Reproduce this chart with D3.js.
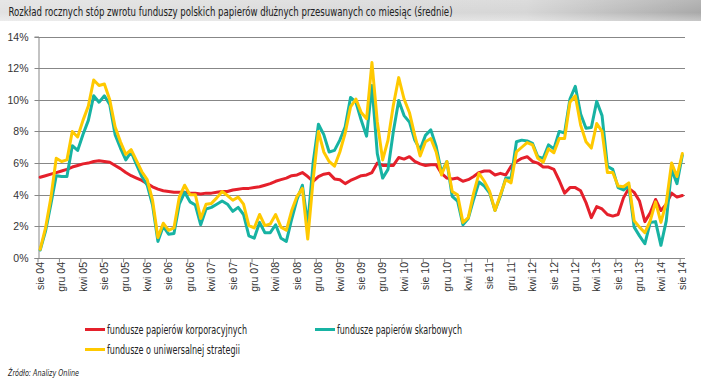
<!DOCTYPE html>
<html><head><meta charset="utf-8">
<script src="https://cdn.jsdelivr.net/npm/d3@7"></script>
<style>
html,body{margin:0;padding:0;background:#fff;}
svg{display:block;}
</style></head>
<body>
<svg id="chart" width="701" height="384"></svg>
<script>
const title = "Rozkład rocznych stóp zwrotu funduszy polskich papierów dłużnych przesuwanych co miesiąc (średnie)";
const source = "Źródło: Analizy Online";
const monthAbbr = ["sty","lut","mar","kwi","maj","cze","lip","sie","wrz","paź","lis","gru"];
const categories = d3.range(121).map(i => {
  const k = 7 + i;
  return monthAbbr[k % 12] + " " + String(4 + Math.floor(k / 12)).padStart(2, "0");
});
const yTicks = [0, 2, 4, 6, 8, 10, 12, 14];
const seriesNames = ["fundusze papierów korporacyjnych", "fundusze papierów skarbowych", "fundusze o uniwersalnej strategii"];
const korporacyjne = [
  5.1, 5.2, 5.3, 5.4, 5.5, 5.6, 5.75, 5.85, 5.95, 6.0,
  6.1, 6.15, 6.1, 6.05, 5.85, 5.65, 5.4, 5.2, 5.05, 4.9,
  4.7, 4.5, 4.35, 4.25, 4.2, 4.15, 4.15, 4.15, 4.1, 4.1,
  4.05, 4.1, 4.1, 4.15, 4.2, 4.2, 4.3, 4.35, 4.4, 4.4,
  4.45, 4.5, 4.6, 4.7, 4.85, 4.95, 5.05, 5.2, 5.25, 5.4,
  5.15, 4.85, 5.15, 5.3, 5.35, 5.0, 4.95, 4.7, 4.9, 5.05,
  5.2, 5.25, 5.4, 6.0, 5.85, 5.85, 5.85, 6.35, 6.25, 6.4,
  6.1, 5.95, 5.85, 5.9, 5.9, 5.35, 5.05, 5.0, 5.05, 4.85,
  4.95, 5.15, 5.4, 5.5, 5.5, 5.25, 5.35, 5.25, 5.8, 6.1,
  6.3, 6.4, 6.1, 6.0, 5.75, 5.75, 5.6, 4.9, 4.1, 4.45,
  4.45, 4.25, 3.5, 2.55, 3.25, 3.1, 2.75, 2.65, 2.75, 3.8,
  4.4, 4.15, 3.6, 2.3, 2.85, 3.7, 3.0, 3.4, 4.1, 3.85,
  3.95
];
const skarbowe = [
  0.5, 1.7, 3.4, 5.2, 5.15, 5.15, 7.1, 6.8, 7.8, 8.7,
  10.25, 9.85, 10.25, 9.7, 7.8, 6.95, 6.2, 6.7, 5.9, 5.15,
  4.6, 3.35, 1.05, 2.0, 1.5, 1.55, 3.4, 4.15, 3.55, 3.35,
  2.1, 3.1, 3.2, 3.4, 3.6, 3.4, 2.95, 3.2, 2.75, 1.4,
  1.25, 2.25, 1.6, 1.6, 2.1, 1.25, 1.05, 2.45, 3.7, 4.6,
  2.1, 6.0, 8.45, 7.8, 6.7, 6.8, 7.45, 8.3, 10.15, 9.85,
  8.7, 7.7, 10.9, 6.6, 5.05, 5.6, 8.0, 9.95, 9.0, 8.6,
  7.45, 6.85, 7.75, 8.1, 7.05, 5.4, 6.1, 3.9, 3.6, 2.1,
  2.5, 3.7, 4.8, 4.55, 4.1, 3.0, 3.9, 5.05, 5.05, 7.35,
  7.45, 7.4, 7.25, 6.4, 6.3, 7.15, 6.9, 8.0, 7.9, 10.05,
  10.85, 9.1, 8.2, 8.25, 9.9, 9.0, 5.8, 5.6, 4.45, 4.3,
  4.55, 1.95, 1.4, 0.9, 2.25, 2.3, 0.8, 2.35, 5.6, 4.7,
  6.5
];
const uniwersalne = [
  0.55, 1.9, 3.8, 6.3, 6.1, 6.2, 8.0, 7.65, 8.7, 9.6,
  11.25, 10.9, 11.0, 10.0, 8.3, 7.35, 6.55, 6.85, 6.15, 5.45,
  4.95, 3.65, 1.3, 2.2, 1.75, 1.9, 3.85, 4.6, 4.0, 4.0,
  2.5, 3.4, 3.45, 3.8, 4.2, 3.95, 3.65, 3.85, 3.4, 2.05,
  1.9, 2.75, 2.05, 2.15, 2.75, 1.95, 1.75, 3.0, 3.9, 4.4,
  1.2, 4.9, 8.0, 6.7, 6.1, 5.8, 6.7, 7.9, 9.55, 10.05,
  9.2, 8.8, 12.35, 8.6, 6.2, 7.45, 9.65, 11.4, 10.05, 9.2,
  7.75, 6.45, 7.35, 7.55, 6.7, 5.25, 6.1, 4.2, 4.0, 2.25,
  2.55, 4.1, 5.35, 4.85, 4.2, 3.0, 4.0, 4.95, 4.75, 6.7,
  7.0, 7.3, 7.15, 6.3, 6.05, 6.9, 6.65, 7.55, 7.55, 9.85,
  10.25, 8.4, 7.35, 6.95, 8.5, 8.0, 5.4, 5.4, 4.55, 4.5,
  4.75, 2.35, 1.95, 1.6, 2.35, 3.55, 2.25, 3.5, 6.0, 5.15,
  6.6
];
const colors = ["#e5202b", "#17b3a3", "#ffc900"];

const svg = d3.select("#chart");
const W = 701, H = 384;
const plotLeft = 37.5, plotRight = 685, plotTop = 36.5, plotBottom = 258;

// title bar
const defs = svg.append("defs");
const g1 = defs.append("linearGradient").attr("id","tb").attr("x1","0").attr("x2","1").attr("y1","0").attr("y2","0");
g1.append("stop").attr("offset","0").attr("stop-color","#e2e2e2");
g1.append("stop").attr("offset","0.75").attr("stop-color","#d6d6d6");
g1.append("stop").attr("offset","1").attr("stop-color","#a9a9a9");
const g2 = defs.append("linearGradient").attr("id","tbv").attr("x1","0").attr("x2","0").attr("y1","0").attr("y2","1");
g2.append("stop").attr("offset","0").attr("stop-color","#fff").attr("stop-opacity","0.15");
g2.append("stop").attr("offset","0.6").attr("stop-color","#fff").attr("stop-opacity","0");
g2.append("stop").attr("offset","1").attr("stop-color","#fff").attr("stop-opacity","0.35");
svg.append("rect").attr("x",0).attr("y",0).attr("width",W).attr("height",21).attr("fill","url(#tb)");
svg.append("rect").attr("x",0).attr("y",0).attr("width",W).attr("height",21).attr("fill","url(#tbv)");
svg.append("text").attr("x",8.5).attr("y",15.5)
  .attr("font-family","'Liberation Sans Narrow','DejaVu Sans Condensed',sans-serif")
  .attr("font-size",13).attr("fill","#222")
  .attr("textLength",444).attr("lengthAdjust","spacingAndGlyphs")
  .text(title);

const x = d3.scaleBand().domain(categories).range([plotLeft, plotRight]).paddingInner(0).paddingOuter(0);
const xb = d3.scaleLinear().domain([0, categories.length]).range([plotLeft, plotRight]);
const y = d3.scaleLinear().domain([0, 14]).range([plotBottom, plotTop]);
const cx = d => x(d) + x.bandwidth() / 2;

// gridlines
svg.append("g").selectAll("line").data(yTicks.filter(t => t > 0)).join("line")
  .attr("x1", plotLeft).attr("x2", plotRight)
  .attr("y1", d => Math.round(y(d)) + 0.5).attr("y2", d => Math.round(y(d)) + 0.5)
  .attr("stroke", "#878787").attr("stroke-width", 1);

// y axis
const yAxis = svg.append("g").attr("transform", `translate(${Math.round(plotLeft)+0.5},0)`)
  .call(d3.axisLeft(y).tickValues(yTicks).tickSize(4).tickPadding(6).tickFormat(d => d + "%"));
yAxis.select(".domain").attr("stroke", "#878787");
yAxis.selectAll(".tick line").attr("stroke", "#878787");
yAxis.selectAll(".tick").attr("transform", d => `translate(0,${Math.round(y(d)) + 0.5})`);
yAxis.selectAll("text").attr("font-family", "'Liberation Sans',Arial,sans-serif").attr("font-size", 10.5).attr("fill", "#333");

// x axis ticks at category boundaries
const xTickIdx = d3.range(0, categories.length, 4);
const xAxisT = svg.append("g").attr("transform", `translate(0,${Math.round(plotBottom)+0.5})`)
  .call(d3.axisBottom(xb).tickValues(xTickIdx).tickSize(4).tickFormat(""));
xAxisT.select(".domain").attr("stroke", "#878787").attr("d", `M${plotLeft},0H${plotRight}`);
xAxisT.selectAll(".tick line").attr("stroke", "#878787");

// x labels at category centers
const xAxisL = svg.append("g").attr("transform", `translate(0,${Math.round(plotBottom)})`)
  .call(d3.axisBottom(x).tickValues(xTickIdx.map(i => categories[i])).tickSize(0).tickPadding(0));
xAxisL.select(".domain").remove();
xAxisL.selectAll("text")
  .attr("font-family", "'Liberation Sans',Arial,sans-serif").attr("font-size", 10.5).attr("fill", "#333")
  .attr("transform", "rotate(-90)").attr("text-anchor", "end")
  .attr("x", -4).attr("y", 0).attr("dy", "0.35em");

// lines
const seriesData = [korporacyjne, skarbowe, uniwersalne];
const line = d3.line().x((d, i) => cx(categories[i])).y(d => y(d));
svg.append("g").selectAll("path").data(seriesData).join("path")
  .attr("d", line).attr("fill", "none")
  .attr("stroke", (d, i) => colors[i]).attr("stroke-width", 3)
  .attr("stroke-linejoin", "round").attr("stroke-linecap", "round");

// legend
const legendPos = [[85, 329.5], [315, 329.5], [85, 349.5]];
const legendLen = [140, 125, 133];
const lg = svg.append("g").selectAll("g").data(seriesNames).join("g")
  .attr("transform", (d, i) => `translate(${legendPos[i][0]},${legendPos[i][1]})`);
lg.append("line").attr("x1", 0).attr("x2", 20).attr("y1", 0).attr("y2", 0)
  .attr("stroke", (d, i) => colors[i]).attr("stroke-width", 3);
lg.append("text").attr("x", 22).attr("y", 4)
  .attr("font-family", "'Liberation Sans Narrow','DejaVu Sans Condensed',sans-serif")
  .attr("font-size", 12).attr("fill", "#222")
  .attr("textLength", (d, i) => legendLen[i]).attr("lengthAdjust", "spacingAndGlyphs")
  .text(d => d);

// source
svg.append("text").attr("x", 8).attr("y", 376)
  .attr("font-family", "'DejaVu Sans Condensed','Liberation Sans',sans-serif")
  .attr("font-style", "italic").attr("font-size", 9).attr("fill", "#222")
  .attr("textLength", 71).attr("lengthAdjust", "spacingAndGlyphs")
  .text(source);
</script>
</body></html>
